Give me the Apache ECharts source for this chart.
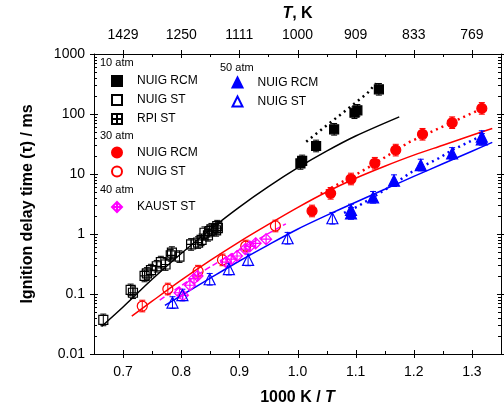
<!DOCTYPE html>
<html><head><meta charset="utf-8">
<script src="https://cdn.jsdelivr.net/npm/echarts@6/dist/echarts.min.js"></script>
<style>html,body{margin:0;padding:0;background:#fff}#c{width:504px;height:414px}</style>
</head><body><div id="c"></div>
<script>
const FONT = 'Arial, "Liberation Sans", sans-serif';

// ---- axis ticks / labels ----
const xTicks = [0.7, 0.8, 0.9, 1.0, 1.1, 1.2, 1.3];
const xTickLabels = ['0.7', '0.8', '0.9', '1.0', '1.1', '1.2', '1.3'];
const topTickLabels = ['1429', '1250', '1111', '1000', '909', '833', '769'];
const xMinorTicks = [0.75, 0.85, 0.95, 1.05, 1.15, 1.25];
const yTicks = [0.01, 0.1, 1, 10, 100, 1000];
const yTickLabels = ['0.01', '0.1', '1', '10', '100', '1000'];
const yMinorMult = [2, 3, 4, 5, 6, 7, 8, 9];

// ---- 10 atm ----
const rcm10 = [[1.005, 15.0], [1.008, 16.5], [1.032, 29.3], [1.063, 55.6], [1.098, 105], [1.103, 115], [1.140, 258]];
const st10 = [[0.666, 0.037], [0.713, 0.117], [0.741, 0.22], [0.765, 0.34], [0.784, 0.49], [0.797, 0.42], [0.840, 1.05], [0.852, 1.20], [0.862, 1.35]];
const rpi10 = [[0.717, 0.105], [0.737, 0.20], [0.748, 0.25], [0.758, 0.29], [0.773, 0.31], [0.782, 0.44], [0.817, 0.67], [0.829, 0.72], [0.835, 0.80], [0.846, 0.95], [0.849, 1.12], [0.860, 1.15], [0.863, 1.25]];
const sim10 = [[0.663, 0.0288], [0.70, 0.0608], [0.75, 0.176], [0.80, 0.474], [0.85, 1.19], [0.90, 2.81], [0.95, 6.15], [1.00, 12.6], [1.05, 24.0], [1.10, 42.9], [1.175, 89.5]];
const simRcm10 = [[1.015, 34.5], [1.046, 60], [1.077, 103], [1.12, 221], [1.135, 325]];

// ---- 30 atm ----
const rcm30 = [[1.025, 2.42], [1.057, 4.76], [1.092, 8.25], [1.133, 15.1], [1.169, 25.0], [1.215, 45.9], [1.266, 71.6], [1.317, 124]];
const st30 = [[0.733, 0.063], [0.777, 0.121], [0.829, 0.24], [0.871, 0.37], [0.911, 0.63], [0.962, 1.36]];
const sim30 = [[0.715, 0.0427], [0.75, 0.0759], [0.80, 0.170], [0.85, 0.363], [0.90, 0.741], [0.95, 1.445], [1.00, 2.754], [1.05, 5.01], [1.10, 8.51], [1.15, 13.49], [1.20, 20.65], [1.25, 30.2], [1.30, 44.2], [1.335, 57.5]];
const simRcm30 = [[1.04, 4.68], [1.046, 5.07], [1.106, 10.5], [1.129, 14.1], [1.192, 33.9], [1.243, 57.5], [1.306, 110], [1.317, 123]];

// ---- 40 atm ----
const kaust40 = [[0.797, 0.105], [0.803, 0.095], [0.815, 0.14], [0.822, 0.18], [0.828, 0.20], [0.877, 0.34], [0.886, 0.38], [0.896, 0.43], [0.910, 0.56], [0.918, 0.62], [0.928, 0.70], [0.946, 0.82]];
const sim40 = [[0.763, 0.0794], [0.855, 0.304], [0.980, 1.48]];

// ---- 50 atm ----
const rcm50 = [[1.092, 2.51], [1.092, 2.2], [1.130, 4.09], [1.166, 7.74], [1.212, 14.1], [1.266, 22.0], [1.317, 37.8], [1.317, 42.0]];
const st50 = [[0.785, 0.072], [0.802, 0.096], [0.849, 0.176], [0.882, 0.26], [0.915, 0.37], [0.983, 0.85], [1.060, 1.83]];
const sim50 = [[0.772, 0.0646], [0.80, 0.0944], [0.85, 0.184], [0.90, 0.355], [0.95, 0.661], [1.00, 1.202], [1.05, 2.042], [1.10, 3.388], [1.15, 5.559], [1.20, 9.12], [1.25, 14.79], [1.30, 23.99], [1.335, 33.65]];
const simRcm50 = [[1.080, 2.24], [1.103, 2.86], [1.152, 5.56], [1.197, 10.9], [1.243, 18.3], [1.266, 25.1], [1.320, 44.7]];

const X_MIN = 0.65, X_MAX = 1.35, Y_MIN = 0.01, Y_MAX = 1000;
const ERR = 1.25;
const BLACK = '#000000', RED = '#ff0000', BLUE = '#0000ff', MAG = '#ff00ff';
const NONE = 'rgba(0,0,0,0)';
const HATCH_SQ = 'path://M0,0L10,0L10,10L0,10Z M5,0L5,10 M0,5L10,5';
const CROSS_DIA = 'path://M5,0L10,5L5,10L0,5Z M5,0L5,10 M0,5L10,5';

function lookup(ticks, labels, v) {
  const i = ticks.findIndex(t => Math.abs(t - v) < 1e-6 * Math.max(1, t));
  return i >= 0 ? labels[i] : '';
}

// tick marks data
const tickData = [];
xTicks.forEach(v => tickData.push([v, 1, 0]));
xMinorTicks.forEach(v => tickData.push([v, 1, 1]));
yTicks.forEach(v => tickData.push([1, v, 2]));
yTicks.slice(0, -1).forEach(d => yMinorMult.forEach(m => tickData.push([1, d * m, 3])));

function tickItem(params, api) {
  const cs = params.coordSys;
  const L = cs.x, R = cs.x + cs.width, T = cs.y, B = cs.y + cs.height;
  const kind = api.value(2);
  const ch = [];
  const seg = (x1, y1, x2, y2) => ch.push({ type: 'line', shape: { x1, y1, x2, y2 }, style: { stroke: '#000', lineWidth: 1 } });
  if (kind < 2) {
    const px = Math.round(api.coord([api.value(0), 1])[0]) + 0.5;
    const inn = kind === 0 ? 4 : 3, out = kind === 0 ? 4 : 0;
    seg(px, B + out, px, B - inn);
    seg(px, T - out, px, T + inn);
  } else {
    const py = Math.round(api.coord([1, api.value(1)])[1]) + 0.5;
    const inn = kind === 2 ? 4 : 3, out = kind === 2 ? 4 : 0;
    seg(L - out, py, L + inn, py);
    seg(R + out, py, R - inn, py);
  }
  return { type: 'group', children: ch };
}

function errSeries(data, color) {
  return {
    type: 'custom', data: data, silent: true, z: 3, animation: false,
    renderItem: function (params, api) {
      const x = api.value(0), y = api.value(1);
      const lo = api.coord([x, y / ERR]), hi = api.coord([x, y * ERR]);
      const w = 3;
      const st = { stroke: color, lineWidth: 1 };
      return {
        type: 'group', children: [
          { type: 'line', shape: { x1: lo[0], y1: lo[1], x2: hi[0], y2: hi[1] }, style: st },
          { type: 'line', shape: { x1: lo[0] - w, y1: lo[1], x2: lo[0] + w, y2: lo[1] }, style: st },
          { type: 'line', shape: { x1: hi[0] - w, y1: hi[1], x2: hi[0] + w, y2: hi[1] }, style: st }
        ]
      };
    }
  };
}

function lineSeries(data, color, type, width, smooth) {
  return {
    type: 'line', data: data, showSymbol: false, symbol: 'none', silent: true, z: 2, smooth: smooth || false,
    lineStyle: { color: color, width: width, type: type }, animation: false
  };
}

function scat(name, data, symbol, size, fill, stroke) {
  return {
    type: 'scatter', name: name, data: data, symbol: symbol, symbolSize: size, z: 4,
    itemStyle: { color: fill, borderColor: stroke, borderWidth: 1.2, opacity: 1 }, animation: false
  };
}

const legendBase = {
  orient: 'vertical', itemWidth: 10, itemHeight: 10, itemGap: 7, selectedMode: false, padding: 0,
  formatter: n => n.split('|')[0],
  textStyle: { fontSize: 12, fontFamily: FONT, color: '#000', padding: [0, 0, 0, 10] }
};

const chart = echarts.init(document.getElementById('c'), null, { renderer: 'canvas' });
chart.setOption({
  animation: false,
  backgroundColor: '#fff',
  grid: { left: 94, right: 3, top: 54, bottom: 60, containLabel: false },
  xAxis: [
    {
      type: 'value', min: X_MIN, max: X_MAX, interval: 0.05, position: 'bottom',
      axisLine: { lineStyle: { color: '#000', width: 1 } }, axisTick: { show: false }, splitLine: { show: false },
      axisLabel: { formatter: v => lookup(xTicks, xTickLabels, v), fontSize: 14, fontFamily: FONT, color: '#000', margin: 11, showMinLabel: true, showMaxLabel: true },
      name: '{b|1000 K / }{i|T}', nameLocation: 'middle', nameGap: 36,
      nameTextStyle: { rich: { b: { fontSize: 16, fontWeight: 'bold', fontFamily: FONT, color: '#000' }, i: { fontSize: 16, fontWeight: 'bold', fontStyle: 'italic', fontFamily: FONT, color: '#000' } } }
    },
    {
      type: 'value', min: X_MIN, max: X_MAX, interval: 0.05, position: 'top',
      axisLine: { lineStyle: { color: '#000', width: 1 } }, axisTick: { show: false }, splitLine: { show: false },
      axisLabel: { formatter: v => lookup(xTicks, topTickLabels, v), fontSize: 14, fontFamily: FONT, color: '#000', margin: 12 },
      name: '{i|T}{b|, K}', nameLocation: 'middle', nameGap: 32,
      nameTextStyle: { rich: { b: { fontSize: 16, fontWeight: 'bold', fontFamily: FONT, color: '#000' }, i: { fontSize: 16, fontWeight: 'bold', fontStyle: 'italic', fontFamily: FONT, color: '#000' } } }
    }
  ],
  yAxis: [
    {
      type: 'log', logBase: 10, min: Y_MIN, max: Y_MAX, position: 'left',
      axisLine: { show: true, lineStyle: { color: '#000', width: 1 } }, axisTick: { show: false }, splitLine: { show: false }, minorTick: { show: false },
      axisLabel: { formatter: v => lookup(yTicks, yTickLabels, v), fontSize: 14, fontFamily: FONT, color: '#000', margin: 9 },
      name: 'Ignition delay time (τ) / ms', nameLocation: 'middle', nameGap: 58, nameRotate: 90,
      nameTextStyle: { fontSize: 16, fontWeight: 'bold', fontFamily: FONT, color: '#000' }
    },
    {
      type: 'log', logBase: 10, min: Y_MIN, max: Y_MAX, position: 'right',
      axisLine: { show: true, lineStyle: { color: '#000', width: 1 } }, axisTick: { show: false }, splitLine: { show: false },
      axisLabel: { show: false }
    }
  ],
  legend: [
    Object.assign({}, legendBase, { left: 111, top: 75, data: ['NUIG RCM|10', 'NUIG ST|10', 'RPI ST|10'] }),
    Object.assign({}, legendBase, { left: 111, top: 146.5, data: ['NUIG RCM|30', 'NUIG ST|30'] }),
    Object.assign({}, legendBase, { left: 111, top: 201, data: ['KAUST ST|40'] }),
    Object.assign({}, legendBase, { left: 231.5, top: 76.5, data: ['NUIG RCM|50', 'NUIG ST|50'] })
  ],
  graphic: [
    { type: 'text', x: 100, y: 63, style: { text: '10 atm', fontSize: 11, fontFamily: FONT, fill: '#000', verticalAlign: 'middle' } },
    { type: 'text', x: 100, y: 136, style: { text: '30 atm', fontSize: 11, fontFamily: FONT, fill: '#000', verticalAlign: 'middle' } },
    { type: 'text', x: 100, y: 190, style: { text: '40 atm', fontSize: 11, fontFamily: FONT, fill: '#000', verticalAlign: 'middle' } },
    { type: 'text', x: 220, y: 68, style: { text: '50 atm', fontSize: 11, fontFamily: FONT, fill: '#000', verticalAlign: 'middle' } }
  ],
  series: [
    { type: 'custom', data: tickData, renderItem: tickItem, silent: true, clip: false, z: 10, animation: false },
    lineSeries(sim10, BLACK, 'solid', 1.5, 0.3),
    lineSeries(simRcm10, BLACK, [2, 4], 2.5),
    lineSeries(sim30, RED, 'solid', 1.5, 0.3),
    lineSeries(simRcm30, RED, [2, 4], 2.5),
    lineSeries(sim40, MAG, [6, 3], 1.5, 0.3),
    lineSeries(sim50, BLUE, 'solid', 1.5, 0.3),
    lineSeries(simRcm50, BLUE, [2, 4], 2.5),
    errSeries(rcm10, BLACK), errSeries(st10, BLACK), errSeries(rpi10, BLACK),
    errSeries(rcm30, RED), errSeries(st30, RED),
    errSeries(rcm50, BLUE), errSeries(st50, BLUE),
    scat('NUIG RCM|10', rcm10, 'rect', 9, BLACK, BLACK),
    scat('NUIG ST|10', st10, 'rect', 9, NONE, BLACK),
    scat('RPI ST|10', rpi10, HATCH_SQ, 9, NONE, BLACK),
    scat('NUIG RCM|30', rcm30, 'circle', 10, RED, RED),
    scat('NUIG ST|30', st30, 'circle', 10, NONE, RED),
    scat('KAUST ST|40', kaust40, CROSS_DIA, 11, NONE, MAG),
    scat('NUIG RCM|50', rcm50, 'triangle', 11, BLUE, BLUE),
    scat('NUIG ST|50', st50, 'triangle', 11, NONE, BLUE)
  ]
});
</script>
</body></html>
